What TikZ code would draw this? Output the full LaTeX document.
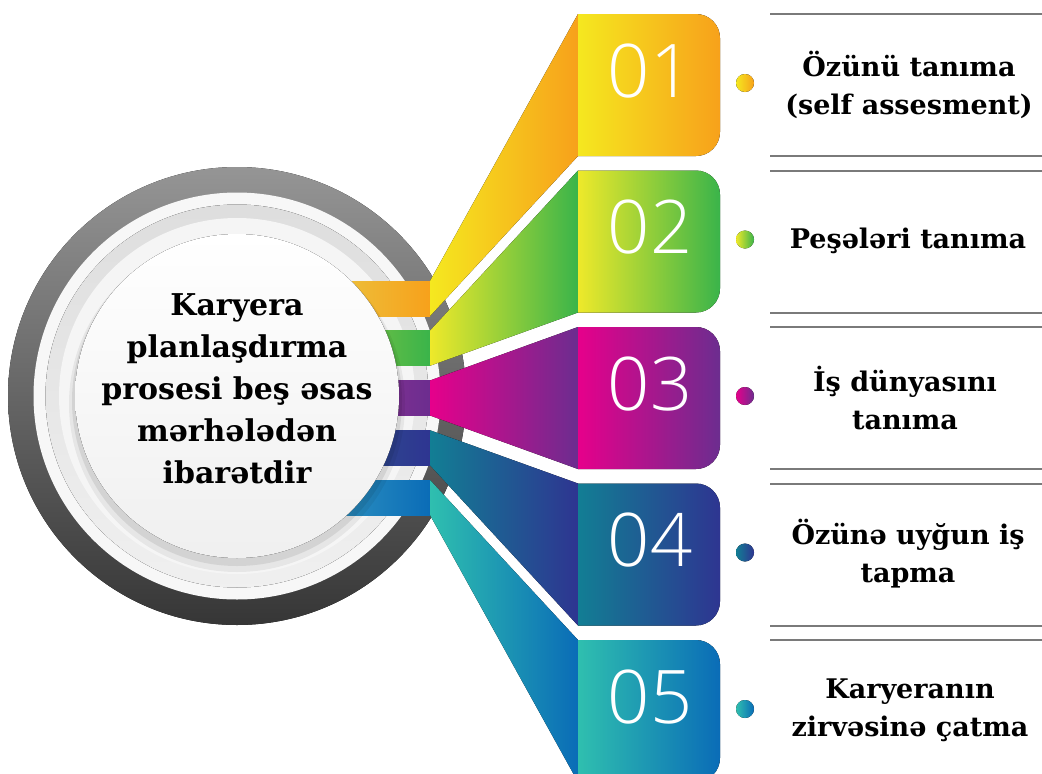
\documentclass[tikz,border=0pt]{standalone}
\usepackage{fontspec}
\setmainfont{DejaVu Serif}
\newfontfamily\numfont{Open Sans Light}
\definecolor{ca1}{HTML}{F5E81F}\definecolor{cb1}{HTML}{F7A11B}
\definecolor{ca2}{HTML}{EEE92A}\definecolor{cb2}{HTML}{3AB44A}
\definecolor{ca3}{HTML}{E6008B}\definecolor{cb3}{HTML}{6C2D8F}
\definecolor{ca4}{HTML}{127E94}\definecolor{cb4}{HTML}{2E3591}
\definecolor{ca5}{HTML}{2FBFAF}\definecolor{cb5}{HTML}{0A6CB7}
\definecolor{bl1}{HTML}{EDBE3A}\definecolor{bl2}{HTML}{7DC143}
\definecolor{bl3}{HTML}{8D3393}\definecolor{bl4}{HTML}{2D4F8E}
\definecolor{bl5}{HTML}{2A8DBF}
\definecolor{ringtop}{HTML}{959595}\definecolor{ringbot}{HTML}{363636}
\definecolor{rulegray}{HTML}{7A7A7A}
\tikzset{
  circtext/.style={align=center,text=black,font=\bfseries\fontsize{30}{42}\selectfont},
  sidetext/.style={align=center,text=black,font=\bfseries\fontsize{27}{38}\selectfont},
  numtext/.style={text=white,font=\numfont\fontsize{74}{74}\selectfont,inner sep=0pt},
  rulestyle/.style={rulegray,line width=2pt}
}
\begin{document}
\begin{tikzpicture}[x=1pt,y=-1pt]
\useasboundingbox (0,0) rectangle (1042,774);
% rings
\coordinate (c) at (237,396);
\fill[top color=ringtop,bottom color=ringbot] (c) circle[radius=229pt];
\fill[white!97!black] (c) circle[radius=203.5pt];
\fill[top color=black!13,bottom color=black!6] (c) circle[radius=191.5pt];
\fill[black!4] (c) circle[radius=178pt];
% bands
\foreach \i in {1,...,5}{
  \pgfmathsetmacro{\bt}{281+49.75*(\i-1)}
  \pgfmathsetmacro{\bb}{\bt+35}
  \fill[left color=bl\i,right color=cb\i] (345,\bt) rectangle (430,\bb);
}
% disc shadow and disc
\fill[black,opacity=0.06] (237,404) circle[radius=168pt];
\fill[black,opacity=0.08] (237,401) circle[radius=165pt];
\fill[top color=white,bottom color=black!6] (c) circle[radius=162pt];
% fans and boxes
\foreach \i in {1,...,5}{
  \pgfmathsetmacro{\t}{14+156.5*(\i-1)}
  \pgfmathsetmacro{\tb}{\t+142}
  \pgfmathsetmacro{\tr}{\t+118}
  \pgfmathsetmacro{\bt}{281+49.75*(\i-1)}
  \pgfmathsetmacro{\bb}{\bt+35}
  \fill[left color=ca\i,right color=cb\i] (430,\bt) -- (578,\t) -- (578,\tb) -- (430,\bb) -- cycle;
  \fill[left color=ca\i,right color=cb\i] (578,\t) -- (696,\t) arc[start angle=90,end angle=0,radius=24pt] -- (720,\tr) arc[start angle=0,end angle=-90,radius=24pt] -- (578,\tb) -- cycle;
  \pgfmathsetmacro{\dy}{83+156.5*(\i-1)}
  \fill[left color=ca\i,right color=cb\i] (745,\dy) circle[radius=9pt];
}
% numbers
\node[numtext] (n1) at (650,71) {01};
\node[numtext] (n2) at (650,227.5) {02};
\node[numtext] (n3) at (650,384) {03};
\node[numtext] (n4) at (650,540.5) {04};
\node[numtext] (n5) at (650,697) {05};
% rules
\foreach \y in {14,156,170.5,312.5,327,469,483.5,625.5,640}{
  \draw[rulestyle] (770,\y) -- (1042,\y);
}
% texts
\node[circtext] (center) at (237,389) {Karyera\\planlaşdırma\\prosesi beş əsas\\mərhələdən\\ibarətdir};
\node[sidetext] (t1) at (909,85) {Özünü tanıma\\(self assesment)};
\node[sidetext] (t2) at (908,241) {Peşələri tanıma};
\node[sidetext] (t3) at (905,398) {İş dünyasını\\tanıma};
\node[sidetext] (t4) at (908,554) {Özünə uyğun iş\\tapma};
\node[sidetext] (t5) at (910,710) {Karyeranın\\zirvəsinə çatma};
\end{tikzpicture}
\end{document}
